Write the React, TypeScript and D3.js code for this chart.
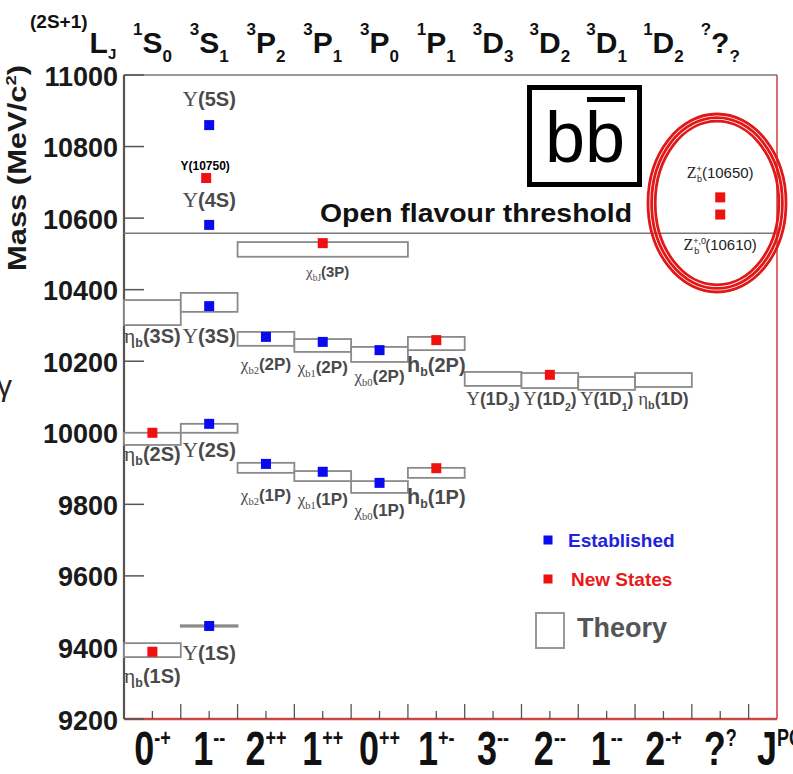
import React from "react";
import * as d3 from "d3";

const W = 793;
const H = 774;

// axis
const massDomain = [9200, 11000];
const yTicks = [9200, 9400, 9600, 9800, 10000, 10200, 10400, 10600, 10800, 11000];
const threshold = 10558;

// column header labels (2S+1)L_J
const topSup = ["1", "3", "3", "3", "3", "1", "3", "3", "3", "1", "?"];
const topBase = ["S", "S", "P", "P", "P", "P", "D", "D", "D", "D", "?"];
const topSub = ["0", "1", "2", "1", "0", "1", "3", "2", "1", "2", "?"];

// J^PC labels
const bottomBase = ["0", "1", "2", "1", "0", "1", "3", "2", "1", "2", "?"];
const bottomSup = ["-+", "--", "++", "++", "++", "+-", "--", "--", "--", "-+", "?"];

// established states (blue)
const estNames = ["Υ(5S)", "Υ(4S)", "Υ(3S)", "χb2(2P)", "χb1(2P)", "χb0(2P)", "Υ(2S)", "χb2(1P)", "χb1(1P)", "χb0(1P)", "Υ(1S)"];
const estCols = [1, 1, 1, 2, 3, 4, 1, 2, 3, 4, 1];
const estMasses = [10860, 10581, 10354, 10268, 10254, 10231, 10025, 9913, 9891, 9860, 9460];

// new states (red)
const newNames = ["Υ(10750)", "χbJ(3P)", "hb(2P)", "Υ(1D2)", "ηb(2S)", "hb(1P)", "ηb(1S)", "Zb(10650)", "Zb(10610)"];
const newCols = [1, 3, 5, 7, 0, 5, 0, 10, 10];
const newMasses = [10712, 10530, 10259, 10162, 10000, 9901, 9388, 10658, 10610];

// theory boxes
const theoryNames = ["η_b(3S)", "Υ(3S)", "χ_bJ(3P)", "χ_b2(2P)", "χ_b1(2P)", "χ_b0(2P)", "h_b(2P)", "Υ(1D_3)", "Υ(1D_2)", "Υ(1D_1)", "η_b(1D)", "η_b(2S)", "Υ(2S)", "χ_b2(1P)", "χ_b1(1P)", "χ_b0(1P)", "h_b(1P)", "η_b(1S)", "Υ(1S)"];
const theoryColStart = [0, 1, 2, 2, 3, 4, 5, 6, 7, 8, 9, 0, 1, 2, 3, 4, 5, 0, 1];
const theoryColEnd = [1, 2, 5, 3, 4, 5, 6, 7, 8, 9, 10, 1, 2, 3, 4, 5, 6, 1, 2];
const theoryLow = [10301, 10338, 10492, 10243, 10226, 10198, 10231, 10131, 10125, 10120, 10128, 9966, 10000, 9888, 9865, 9832, 9874, 9373, 9458];
const theoryHigh = [10371, 10391, 10533, 10282, 10262, 10240, 10268, 10170, 10167, 10156, 10167, 10000, 10025, 9916, 9893, 9865, 9902, 9412, 9462];

// layout: label baseline offsets below box bottoms (px)
const theoryLabelDy = [18, 31, 20, 24, 21, 20, 22, 19, 17, 15, 18, 16, 24, 28, 24, 23, 26, 26, 33];

const SANS = "'Liberation Sans', Arial, Helvetica, sans-serif";
const SERIF = "'Liberation Serif', 'DejaVu Serif', 'Times New Roman', serif";
const BLUE = "#0a0af0";
const RED = "#f01010";
const LABEL = "#4a4a4a";

function parseLabel(name: string) {
  const sym = name[0];
  let rest = name.slice(1);
  let sub = "";
  if (rest[0] === "_") {
    const i = rest.indexOf("(");
    sub = rest.slice(1, i);
    rest = rest.slice(i);
  }
  let paren = rest;
  let pSub = "";
  let pTail = "";
  const j = rest.indexOf("_");
  if (j >= 0) {
    paren = rest.slice(0, j);
    pSub = rest[j + 1];
    pTail = rest.slice(j + 2);
  }
  return { sym, sub, paren, pSub, pTail };
}

function StateLabel({ name, x, y, size }: { name: string; x: number; y: number; size: number }) {
  const p = parseLabel(name);
  const isH = p.sym === "h";
  const isChi = p.sym === "χ";
  return (
    <text x={x} y={y} textAnchor="middle" fill={LABEL} fontFamily={SANS} fontWeight="bold" fontSize={size}>
      <tspan
        fontFamily={isH ? SANS : SERIF}
        fontWeight={isH ? "bold" : "normal"}
        fontSize={isChi ? size * 1.0 : size * 1.08}
      >
        {p.sym}
      </tspan>
      {p.sub && (
        <tspan fontFamily={isChi ? SERIF : SANS} fontWeight={isChi ? "normal" : "bold"} fontSize={size * 0.62} dy={4}>
          {p.sub}
        </tspan>
      )}
      <tspan dy={p.sub ? -4 : 0}>{p.paren}</tspan>
      {p.pSub && (
        <>
          <tspan fontSize={size * 0.6} dy={6}>
            {p.pSub}
          </tspan>
          <tspan dy={-6}>{p.pTail}</tspan>
        </>
      )}
    </text>
  );
}

export default function App() {
  const x = d3.scaleLinear().domain([0, 11.5]).range([124, 777]);
  const y = d3.scaleLinear().domain(massDomain).range([719, 75]);
  const cx = (c: number) => x(c + 0.5);
  const plotL = x(0);
  const plotR = x(11.5);
  const plotT = y(massDomain[1]);
  const plotB = y(massDomain[0]);
  const M = 10;

  const majorX = d3.range(1, 12);
  const minorX = d3.range(0, 11).map((d) => d + 0.5);

  const labelSize = (n: string) =>
    n.startsWith("χ_bJ") ? 15 : n.startsWith("χ") ? 17 : n.includes("D") ? 17.5 : 20;

  return (
    <svg
      width={W}
      height={H}
      viewBox={`0 0 ${W} ${H}`}
      style={{ position: "absolute", left: 0, top: 0, display: "block", background: "#fff" }}
    >
      <rect x={0} y={0} width={W} height={H} fill="#fff" />

      {/* header (2S+1)L_J */}
      <text x={30} y={53} fontFamily={SANS} fontWeight="bold" fill="#111">
        <tspan fontSize={19} dy={-25}>(2S+1)</tspan>
        <tspan fontSize={30} dx={2} dy={25}>L</tspan>
        <tspan fontSize={15} dy={6}>J</tspan>
      </text>
      {topBase.map((b, i) => (
        <text key={"top" + i} x={cx(i)} y={53} textAnchor="middle" fontFamily={SANS} fontWeight="bold" fill="#111">
          <tspan fontSize={17} dy={-18}>{topSup[i]}</tspan>
          <tspan fontSize={30} dy={18}>{b}</tspan>
          <tspan fontSize={17} dy={9}>{topSub[i]}</tspan>
        </text>
      ))}

      {/* frame */}
      <line x1={plotL} x2={plotR} y1={plotT} y2={plotT} stroke="#777" strokeWidth={1.5} />
      <line x1={plotR} x2={plotR} y1={plotT} y2={plotB} stroke="#d23c3c" strokeWidth={1.5} />
      <line x1={plotL} x2={plotR} y1={plotB} y2={plotB} stroke="#c84848" strokeWidth={2.5} />
      <line x1={plotL} x2={plotL} y1={plotT} y2={plotB} stroke="#555" strokeWidth={2.2} />

      {/* y ticks */}
      {yTicks.map((t) => (
        <g key={"yt" + t}>
          <line x1={plotL} x2={plotL + 20} y1={y(t)} y2={y(t)} stroke="#555" strokeWidth={1.5} />
          <text
            x={118}
            y={y(t) + 1.5}
            textAnchor="end"
            dominantBaseline="central"
            fontFamily={SANS}
            fontWeight="bold"
            fontSize={27}
            fill="#1a1a1a"
          >
            {t}
          </text>
        </g>
      ))}
      <text
        transform={`translate(26,168) rotate(-90)`}
        textAnchor="middle"
        fontFamily={SANS}
        fontWeight="bold"
        fontSize={25}
        fill="#1a1a1a"
        textLength={206}
        lengthAdjust="spacingAndGlyphs"
      >
        Mass (MeV/c<tspan fontSize={15} dy={-10}>2</tspan>
        <tspan dy={10}>)</tspan>
      </text>
      <text x={-3} y={396} fontFamily={SANS} fontSize={30} fill="#222">
        γ
      </text>

      {/* x ticks */}
      {majorX.map((c) => (
        <line key={"xM" + c} x1={x(c)} x2={x(c)} y1={plotB} y2={plotB - 15} stroke="#555" strokeWidth={1.3} />
      ))}
      {minorX.map((c) => (
        <line key={"xm" + c} x1={x(c)} x2={x(c)} y1={plotB} y2={plotB - 8} stroke="#555" strokeWidth={1.3} />
      ))}
      {bottomBase.map((b, i) => (
        <text
          key={"bot" + i}
          transform={`translate(${cx(i)},765) scale(1,1.36)`}
          textAnchor="middle"
          fontFamily={SANS}
          fontWeight="bold"
          fontSize={36}
          fill="#111"
        >
          {b}
          <tspan fontSize={18} dy={-14}>
            {bottomSup[i]}
          </tspan>
        </text>
      ))}
      <text transform={`translate(757,765) scale(1,1.36)`} fontFamily={SANS} fontWeight="bold" fontSize={36} fill="#111">
        J<tspan fontSize={18} dy={-14}>PC</tspan>
      </text>

      {/* threshold */}
      <line x1={plotL} x2={plotR} y1={y(threshold)} y2={y(threshold)} stroke="#777" strokeWidth={1.5} />
      <text x={476} y={222} textAnchor="middle" fontFamily={SANS} fontWeight="bold" fontSize={25} fill="#111" textLength={312} lengthAdjust="spacingAndGlyphs">
        Open flavour threshold
      </text>

      {/* theory boxes */}
      {theoryNames.map((n, i) => (
        <rect
          key={"th" + i}
          x={x(theoryColStart[i])}
          y={y(theoryHigh[i])}
          width={x(theoryColEnd[i]) - x(theoryColStart[i])}
          height={y(theoryLow[i]) - y(theoryHigh[i])}
          fill={i === theoryNames.length - 1 ? "#999" : "#fff"}
          stroke="#8a8a8a"
          strokeWidth={1.8}
        />
      ))}
      {theoryNames.map((n, i) => (
        <StateLabel
          key={"tl" + i}
          name={n}
          x={(x(theoryColStart[i]) + x(theoryColEnd[i])) / 2 + (n.startsWith("χ_bJ") ? 5 : 0)}
          y={y(theoryLow[i]) + theoryLabelDy[i]}
          size={labelSize(n)}
        />
      ))}

      {/* labels above Υ(5S), Υ(4S), Υ(10750) */}
      <StateLabel name="Υ(5S)" x={cx(estCols[0])} y={y(estMasses[0]) - 19} size={20} />
      <StateLabel name="Υ(4S)" x={cx(estCols[1])} y={y(estMasses[1]) - 18} size={20} />
      <text x={cx(newCols[0]) - 4} y={y(newMasses[0]) - 8} textAnchor="middle" fontFamily={SANS} fontWeight="bold" fontSize={12} fill="#000">
        Y(10750)
      </text>

      {/* markers */}
      {estNames.map((n, i) => (
        <rect key={"e" + i} x={cx(estCols[i]) - M / 2} y={y(estMasses[i]) - M / 2} width={M} height={M} fill={BLUE} />
      ))}
      {newNames.map((n, i) => (
        <rect key={"n" + i} x={cx(newCols[i]) - M / 2 - (i === 0 ? 3 : 0)} y={y(newMasses[i]) - M / 2} width={M} height={M} fill={RED} />
      ))}

      {/* Z_b labels */}
      <text x={cx(10)} y={y(newMasses[7]) - 19} textAnchor="middle" fontFamily={SANS} fontSize={15} fill="#222">
        <tspan fontFamily={SERIF} fontSize={16}>Z</tspan>
        <tspan fontSize={9} dy={-6}>+</tspan>
        <tspan fontSize={9} dx={-5} dy={10}>b</tspan>
        <tspan dy={-4}>(10650)</tspan>
      </text>
      <text x={cx(10)} y={y(newMasses[8]) + 35} textAnchor="middle" fontFamily={SANS} fontSize={15} fill="#222">
        <tspan fontFamily={SERIF} fontSize={16}>Z</tspan>
        <tspan fontSize={9} dy={-6}>+,0</tspan>
        <tspan fontSize={9} dx={-12} dy={10}>b</tspan>
        <tspan dx={6} dy={-4}>(10610)</tspan>
      </text>

      {/* red ellipses */}
      {[0, 1, 2].map((k) => (
        <ellipse key={"el" + k} cx={717} cy={203} rx={69 - k * 3.6} ry={89 - k * 3.6} fill="none" stroke="#e01818" strokeWidth={2.8} />
      ))}

      {/* b bbar box */}
      <rect x={529.5} y={87.5} width={110} height={97} fill="#fff" stroke="#000" strokeWidth={5} />
      <text x={585} y={162} textAnchor="middle" fontFamily={SANS} fontSize={72} fill="#000">
        bb
      </text>
      <rect x={587} y={97} width={38} height={5} fill="#000" />

      {/* legend */}
      <rect x={548 - 4.5} y={540 - 4.5} width={9} height={9} fill={BLUE} />
      <text x={568} y={540} dominantBaseline="central" fontFamily={SANS} fontWeight="bold" fontSize={19} fill="#2222dd">
        Established
      </text>
      <rect x={548 - 4.5} y={579 - 4.5} width={9} height={9} fill={RED} />
      <text x={571} y={579} dominantBaseline="central" fontFamily={SANS} fontWeight="bold" fontSize={19} fill="#e81a1a">
        New States
      </text>
      <rect x={536} y={613} width={28} height={35} fill="#fff" stroke="#999" strokeWidth={2} />
      <text x={577} y={637} fontFamily={SANS} fontWeight="bold" fontSize={27} fill="#555">
        Theory
      </text>
    </svg>
  );
}
